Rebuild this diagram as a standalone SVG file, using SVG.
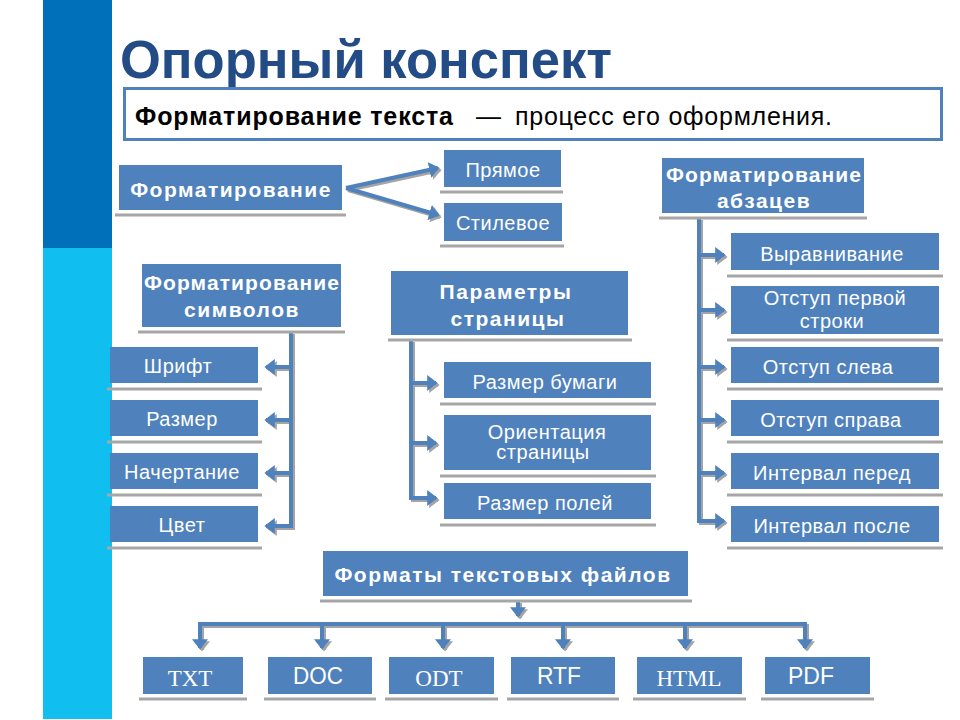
<svg xmlns="http://www.w3.org/2000/svg" width="960" height="720" viewBox="0 0 960 720">
  <style>
    .box { fill: #4F81BD; }
    .ul { stroke: #A6A6A6; stroke-width: 3; }
    .t { font-family: "Liberation Sans", Arial, sans-serif; fill: #FFFFFF; font-size: 20px; letter-spacing: 0.5px; text-anchor: middle; }
    .b { font-weight: bold; font-size: 21px; letter-spacing: 1.5px; }
    .b.tight { letter-spacing: 1.1px; }
    .serif { font-family: "Liberation Serif", "Times New Roman", serif; font-size: 23px; letter-spacing: 0; }
    .narrow { font-size: 23px; letter-spacing: 0; }
    .con { stroke: #4F81BD; stroke-width: 4; fill: none; }
  </style>
  <defs>
    <marker id="ah" markerWidth="4" markerHeight="4" refX="2.2" refY="2" orient="auto" markerUnits="strokeWidth">
      <path d="M0,0 L2.6,2 L0,4 Z" fill="#4F81BD"/>
    </marker>
    <filter id="sh" x="-10%" y="-10%" width="130%" height="130%">
      <feDropShadow dx="2" dy="2" stdDeviation="0.6" flood-color="#9A9A9A" flood-opacity="0.9"/>
    </filter>
  </defs>

  <rect width="960" height="720" fill="#FFFFFF"/>

  <!-- side band -->
  <rect x="43" y="0" width="69" height="248" fill="#0070BA"/>
  <rect x="43" y="248" width="69" height="471" fill="#10BEF0"/>

  <!-- heading -->
  <text x="120" y="78" font-family="Liberation Sans, Arial, sans-serif" font-weight="bold" font-size="53" fill="#234B85" textLength="492" lengthAdjust="spacingAndGlyphs">Опорный конспект</text>

  <!-- definition -->
  <g id="definition">
    <rect x="124.5" y="88.5" width="817" height="51" fill="#FFFFFF" stroke="#4F81BD" stroke-width="3"/>
    <text y="125" font-family="Liberation Sans, Arial, sans-serif" font-size="25" fill="#000000"><tspan x="135" font-weight="bold" textLength="318">Форматирование текста</tspan><tspan x="476">—</tspan><tspan x="515" textLength="317">процесс его оформления.</tspan></text>
  </g>

  <!-- connectors -->
  <g id="connectors" filter="url(#sh)">
    <line class="con" x1="346" y1="188" x2="438" y2="168" marker-end="url(#ah)"/>
    <line class="con" x1="346" y1="188" x2="438" y2="215" marker-end="url(#ah)"/>

    <path class="con" d="M291,332 V526"/>
    <line class="con" x1="291" y1="367" x2="266" y2="367" marker-end="url(#ah)"/>
    <line class="con" x1="291" y1="420" x2="266" y2="420" marker-end="url(#ah)"/>
    <line class="con" x1="291" y1="473" x2="266" y2="473" marker-end="url(#ah)"/>
    <line class="con" x1="293" y1="526" x2="266" y2="526" marker-end="url(#ah)"/>

    <path class="con" d="M411,340 V498"/>
    <line class="con" x1="409" y1="383" x2="436" y2="383" marker-end="url(#ah)"/>
    <line class="con" x1="409" y1="443" x2="436" y2="443" marker-end="url(#ah)"/>
    <line class="con" x1="409" y1="498" x2="436" y2="498" marker-end="url(#ah)"/>

    <path class="con" d="M699,218 V521"/>
    <line class="con" x1="697" y1="255" x2="724" y2="255" marker-end="url(#ah)"/>
    <line class="con" x1="697" y1="310" x2="724" y2="310" marker-end="url(#ah)"/>
    <line class="con" x1="697" y1="367" x2="724" y2="367" marker-end="url(#ah)"/>
    <line class="con" x1="697" y1="420" x2="724" y2="420" marker-end="url(#ah)"/>
    <line class="con" x1="697" y1="473" x2="724" y2="473" marker-end="url(#ah)"/>
    <line class="con" x1="697" y1="521" x2="724" y2="521" marker-end="url(#ah)"/>

    <line class="con" x1="518" y1="601" x2="518" y2="616" marker-end="url(#ah)"/>
    <path class="con" d="M200,624 H806"/>
    <line class="con" x1="200" y1="622" x2="200" y2="648" marker-end="url(#ah)"/>
    <line class="con" x1="322" y1="624" x2="322" y2="648" marker-end="url(#ah)"/>
    <line class="con" x1="443" y1="624" x2="443" y2="648" marker-end="url(#ah)"/>
    <line class="con" x1="563" y1="624" x2="563" y2="648" marker-end="url(#ah)"/>
    <line class="con" x1="685" y1="624" x2="685" y2="648" marker-end="url(#ah)"/>
    <line class="con" x1="805" y1="622" x2="805" y2="648" marker-end="url(#ah)"/>
  </g>

  <!-- top row -->
  <g id="formatting">
    <line class="ul" x1="115" y1="215" x2="346" y2="215"/>
    <rect class="box" x="119" y="165" width="223" height="45"/>
    <text class="t b" x="231" y="197">Форматирование</text>
  </g>
  <g id="direct">
    <line class="ul" x1="440" y1="192" x2="563" y2="192"/>
    <rect class="box" x="444" y="150" width="117" height="37"/>
    <text class="t" x="503" y="177">Прямое</text>
  </g>
  <g id="style">
    <line class="ul" x1="440" y1="246" x2="564" y2="246"/>
    <rect class="box" x="444" y="203" width="118" height="38"/>
    <text class="t" x="503" y="230">Стилевое</text>
  </g>
  <g id="paragraph-formatting">
    <line class="ul" x1="659" y1="218" x2="867" y2="218"/>
    <rect class="box" x="662" y="158" width="202" height="55"/>
    <text class="t b tight" x="764" y="182">Форматирование</text>
    <text class="t b" x="764" y="208">абзацев</text>
  </g>

  <!-- character formatting -->
  <g id="char-formatting">
    <line class="ul" x1="138" y1="332" x2="345" y2="332"/>
    <rect class="box" x="142" y="264" width="199" height="63"/>
    <text class="t b tight" x="242" y="290">Форматирование</text>
    <text class="t b" x="242" y="317">символов</text>
  </g>
  <g id="font">
    <line class="ul" x1="107" y1="389" x2="262" y2="389"/>
    <rect class="box" x="110" y="347" width="148" height="36"/>
    <text class="t" x="178" y="373">Шрифт</text>
  </g>
  <g id="size">
    <line class="ul" x1="107" y1="442" x2="262" y2="442"/>
    <rect class="box" x="110" y="400" width="148" height="36"/>
    <text class="t" x="182" y="426">Размер</text>
  </g>
  <g id="typeface">
    <line class="ul" x1="107" y1="495" x2="262" y2="495"/>
    <rect class="box" x="110" y="453" width="148" height="36"/>
    <text class="t" x="182" y="479">Начертание</text>
  </g>
  <g id="color">
    <line class="ul" x1="107" y1="548" x2="262" y2="548"/>
    <rect class="box" x="110" y="506" width="148" height="36"/>
    <text class="t" x="182" y="532">Цвет</text>
  </g>

  <!-- page setup -->
  <g id="page-setup">
    <line class="ul" x1="388" y1="340" x2="632" y2="340"/>
    <rect class="box" x="391" y="271" width="237" height="64"/>
    <text class="t b" x="506" y="299">Параметры</text>
    <text class="t b" x="508" y="326">страницы</text>
  </g>
  <g id="paper-size">
    <line class="ul" x1="440" y1="404" x2="656" y2="404"/>
    <rect class="box" x="444" y="362" width="207" height="36"/>
    <text class="t" x="545" y="389">Размер бумаги</text>
  </g>
  <g id="orientation">
    <line class="ul" x1="440" y1="476" x2="656" y2="476"/>
    <rect class="box" x="444" y="415" width="207" height="55"/>
    <text class="t" x="547" y="439">Ориентация</text>
    <text class="t" x="543" y="459">страницы</text>
  </g>
  <g id="margins">
    <line class="ul" x1="440" y1="525" x2="656" y2="525"/>
    <rect class="box" x="444" y="483" width="207" height="36"/>
    <text class="t" x="545" y="510">Размер полей</text>
  </g>

  <!-- paragraph children -->
  <g id="alignment">
    <line class="ul" x1="727" y1="276" x2="943" y2="276"/>
    <rect class="box" x="731" y="233" width="208" height="37"/>
    <text class="t" x="832" y="261">Выравнивание</text>
  </g>
  <g id="first-line">
    <line class="ul" x1="727" y1="340" x2="943" y2="340"/>
    <rect class="box" x="731" y="286" width="208" height="48"/>
    <text class="t" x="835" y="305">Отступ первой</text>
    <text class="t" x="832" y="328">строки</text>
  </g>
  <g id="indent-left">
    <line class="ul" x1="727" y1="389" x2="943" y2="389"/>
    <rect class="box" x="731" y="347" width="208" height="36"/>
    <text class="t" x="828" y="374">Отступ слева</text>
  </g>
  <g id="indent-right">
    <line class="ul" x1="727" y1="442" x2="943" y2="442"/>
    <rect class="box" x="731" y="400" width="208" height="36"/>
    <text class="t" x="831" y="427">Отступ справа</text>
  </g>
  <g id="space-before">
    <line class="ul" x1="727" y1="495" x2="943" y2="495"/>
    <rect class="box" x="731" y="453" width="208" height="36"/>
    <text class="t" x="832" y="480">Интервал перед</text>
  </g>
  <g id="space-after">
    <line class="ul" x1="727" y1="548" x2="943" y2="548"/>
    <rect class="box" x="731" y="506" width="208" height="36"/>
    <text class="t" x="832" y="533">Интервал после</text>
  </g>

  <!-- file formats -->
  <g id="file-formats">
    <line class="ul" x1="320" y1="601" x2="692" y2="601"/>
    <rect class="box" x="323" y="551" width="365" height="45"/>
    <text class="t b" x="503" y="582">Форматы текстовых файлов</text>
  </g>
  <g id="txt">
    <line class="ul" x1="139" y1="699" x2="247" y2="699"/>
    <rect class="box" x="143" y="657" width="100" height="37"/>
    <text class="t serif" x="190" y="686">TXT</text>
  </g>
  <g id="doc">
    <line class="ul" x1="264" y1="699" x2="376" y2="699"/>
    <rect class="box" x="268" y="657" width="104" height="37"/>
    <text class="t narrow" x="318" y="684" textLength="50" lengthAdjust="spacingAndGlyphs">DOC</text>
  </g>
  <g id="odt">
    <line class="ul" x1="385" y1="699" x2="498" y2="699"/>
    <rect class="box" x="389" y="657" width="105" height="37"/>
    <text class="t serif" x="439" y="686">ODT</text>
  </g>
  <g id="rtf">
    <line class="ul" x1="507" y1="699" x2="619" y2="699"/>
    <rect class="box" x="511" y="657" width="104" height="37"/>
    <text class="t narrow" x="559" y="684" textLength="44" lengthAdjust="spacingAndGlyphs">RTF</text>
  </g>
  <g id="html">
    <line class="ul" x1="633" y1="699" x2="746" y2="699"/>
    <rect class="box" x="637" y="657" width="105" height="37"/>
    <text class="t serif" x="689" y="686">HTML</text>
  </g>
  <g id="pdf">
    <line class="ul" x1="761" y1="699" x2="874" y2="699"/>
    <rect class="box" x="765" y="657" width="105" height="37"/>
    <text class="t narrow" x="811" y="684" textLength="46" lengthAdjust="spacingAndGlyphs">PDF</text>
  </g>
</svg>
